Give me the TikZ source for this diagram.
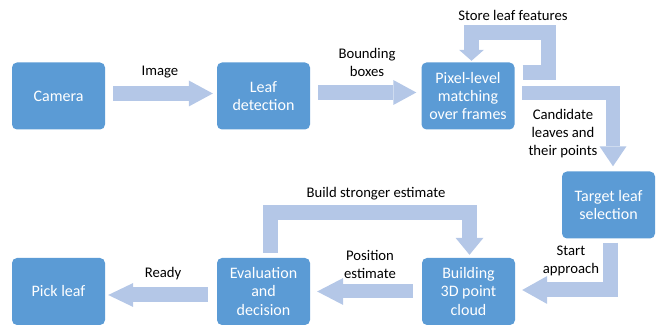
\documentclass[tikz,border=0pt]{standalone}
\usepackage{fontspec}
\setmainfont{Carlito}
\usetikzlibrary{arrows.meta,calc}
\definecolor{boxblue}{HTML}{5B9BD5}
\definecolor{arrblue}{HTML}{B4C7E7}
\begin{document}
\begin{tikzpicture}[x=1pt,y=1pt,
  box/.style={fill=boxblue, rounded corners=5pt, minimum width=93pt, minimum height=67pt,
    align=center, text=white, font=\fontsize{16}{18.3}\selectfont, inner sep=0pt},
  lbl/.style={align=center, font=\fontsize{14.7}{18.3}\selectfont, inner sep=0pt},
  flow/.style={draw=arrblue, line width=15pt, line join=miter},
  blockhead/.style 2 args={-{Triangle[width=#1pt,length=#2pt,line width=0pt]}},
]
\useasboundingbox (0,0) rectangle (661,328);

% boxes
\node[box] (cam)  at (58.5,232)  {Camera};
\node[box] (det)  at (263.5,232) {Leaf\\detection};
\node[box] (pix)  at (468,232)   {Pixel-level\\matching\\over frames};
\node[box] (tgt)  at (608.5,123) {Target leaf\\selection};
\node[box] (bld)  at (468.5,36.5) {Building\\3D point\\cloud};
\node[box] (evl)  at (263.5,36.5) {Evaluation\\and\\decision};
\node[box] (pick) at (58.5,36.5) {Pick leaf};

% connectors
\draw[flow, blockhead={26}{24}] ($(cam.east)+(8,2.5)$) -- ($(det.west)+(-4,2.5)$);
\draw[flow, blockhead={25}{23}] ($(det.east)+(8,3.5)$) -- ($(pix.west)+(-5,3.5)$);
\draw[flow, blockhead={25}{11}] ($(pix.east)+(8,23.5)$) -- ++(26,0)
   |- ($(pix.north)+(3.5,30)$) -- ($(pix.north)+(3.5,1.5)$);
\draw[flow, line width=14pt, blockhead={27}{20}] ($(pix.east)+(7.5,2.5)$)
   -| ($(tgt.north)+(4.5,5)$);
\draw[flow, blockhead={28}{25}] ($(tgt.south)+(1.5,-4)$) |- ($(bld.east)+(7,1.5)$);
\draw[flow, line width=14pt, blockhead={27}{26}] ($(bld.west)+(-9,0)$) -- ($(evl.east)+(7,0)$);
\draw[flow, blockhead={28}{17}] ($(evl.north)+(7,5)$) -- ++(0,40.5)
   -| ($(bld.north)+(1,3)$);
\draw[flow, blockhead={24}{25}] ($(evl.west)+(-9,-3.5)$) -- ($(pick.east)+(3,-3.5)$);

% labels
\node[lbl] (limg) at (160,256) {Image};
\node[lbl] (lbb)  at (367,265.5) {Bounding\\boxes};
\node[lbl] (lst)  at (513,313) {Store leaf features};
\node[lbl] (lcd)  at (563,194.5) {Candidate\\leaves and\\their points};
\node[lbl] (lbs)  at (376,134) {Build stronger estimate};
\node[lbl] (lpe)  at (370,63.5) {Position\\estimate};
\node[lbl] (lsa)  at (571,67) {Start\\approach};
\node[lbl] (lrd)  at (163,54) {Ready};
\end{tikzpicture}
\end{document}
